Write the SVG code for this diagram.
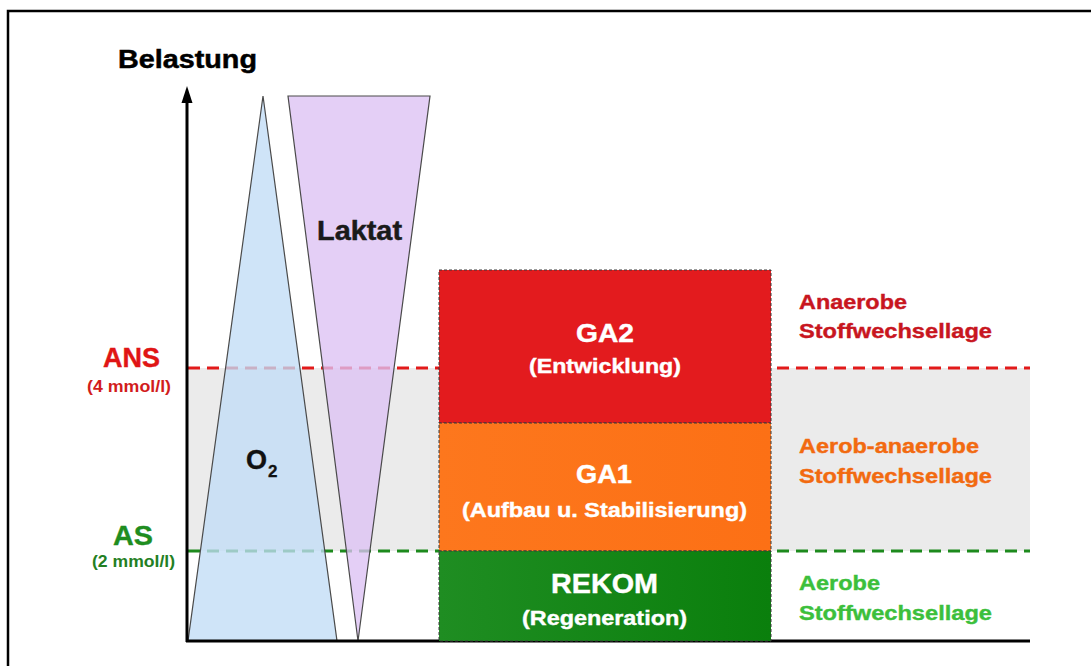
<svg xmlns="http://www.w3.org/2000/svg" width="1091" height="666" viewBox="0 0 1091 666">
  <defs>
    <style>
      text { font-family: "Liberation Sans", Arial, sans-serif; font-weight: bold; }
      .box { stroke: #3a3a3a; stroke-width: 1; stroke-dasharray: 3 2; }
      .boxt { fill: #ffffff; text-anchor: middle; stroke: #ffffff; stroke-width: 0.4; }
      .tri { stroke: #4a4a4a; stroke-width: 1.2; fill-opacity: 0.78; }
      .dash { stroke-width: 3; stroke-dasharray: 12 7; fill: none; }
      .lbl { font-size: 21px; stroke-width: 0.4; }
    </style>
    <linearGradient id="gGreen" x1="0" y1="0" x2="1" y2="0">
      <stop offset="0" stop-color="#1f8d22"/>
      <stop offset="1" stop-color="#0a7f0c"/>
    </linearGradient>
    <linearGradient id="gOrange" x1="0" y1="0" x2="1" y2="0">
      <stop offset="0" stop-color="#fd771d"/>
      <stop offset="1" stop-color="#fc7015"/>
    </linearGradient>
  </defs>

  <rect x="0" y="0" width="1091" height="666" fill="#ffffff"/>
  <!-- frame -->
  <path d="M8,666 V11 H1091" fill="none" stroke="#000" stroke-width="2.5"/>

  <!-- grey band -->
  <rect x="188" y="368" width="842" height="183" fill="#ebebeb"/>

  <!-- threshold lines -->
  <g id="connectors">
    <line class="dash" x1="188" y1="368" x2="1030" y2="368" stroke="#e21a1a"/>
    <line class="dash" x1="188" y1="551" x2="1030" y2="551" stroke="#1d8a1d"/>
  </g>

  <!-- triangles -->
  <g id="o2">
    <polygon class="tri" points="263,96 188,641 337,641" fill="#c2dcf6"/>
    <text x="246" y="469" font-size="27" fill="#111" stroke="#111" stroke-width="0.4">O</text>
    <text x="268" y="477" font-size="17" fill="#111" stroke="#111" stroke-width="0.3">2</text>
  </g>
  <g id="laktat">
    <polygon class="tri" points="288,96 430,96 358,641" fill="#dcc2f4"/>
    <text x="317" y="240" font-size="27" fill="#1a1a1a" stroke="#1a1a1a" stroke-width="0.5" textLength="85" lengthAdjust="spacingAndGlyphs">Laktat</text>
  </g>

  <!-- axes -->
  <g id="axes">
    <line x1="187" y1="642" x2="187" y2="100" stroke="#000" stroke-width="3"/>
    <polygon points="187,86 181.5,103 192.5,103" fill="#000"/>
    <line x1="186" y1="641" x2="1030" y2="641" stroke="#000" stroke-width="3"/>
    <text x="118" y="68" font-size="26" fill="#000" stroke="#000" stroke-width="0.5" textLength="139" lengthAdjust="spacingAndGlyphs">Belastung</text>
  </g>

  <!-- threshold labels -->
  <g id="ans">
    <text x="103" y="367" font-size="28" fill="#e01515" stroke="#e01515" stroke-width="0.4" textLength="57" lengthAdjust="spacingAndGlyphs">ANS</text>
    <text x="87" y="392" font-size="16" fill="#d21c1c" textLength="84" lengthAdjust="spacingAndGlyphs">(4 mmol/l)</text>
  </g>
  <g id="as">
    <text x="113" y="545" font-size="28" fill="#1f8d1f" stroke="#1f8d1f" stroke-width="0.4" textLength="40" lengthAdjust="spacingAndGlyphs">AS</text>
    <text x="92" y="567" font-size="16" fill="#237f23" textLength="83" lengthAdjust="spacingAndGlyphs">(2 mmol/l)</text>
  </g>

  <!-- zones -->
  <g id="ga2">
    <rect class="box" x="439" y="270" width="332" height="153" fill="#e31b1e"/>
    <text class="boxt" x="605" y="342" font-size="26" textLength="58" lengthAdjust="spacingAndGlyphs">GA2</text>
    <text class="boxt" x="605" y="373" font-size="20" textLength="152" lengthAdjust="spacingAndGlyphs">(Entwicklung)</text>
  </g>
  <g id="ga1">
    <rect class="box" x="439" y="423" width="332" height="128" fill="url(#gOrange)"/>
    <text class="boxt" x="604" y="483" font-size="26" textLength="56" lengthAdjust="spacingAndGlyphs">GA1</text>
    <text class="boxt" x="604.5" y="517" font-size="20" textLength="285" lengthAdjust="spacingAndGlyphs">(Aufbau u. Stabilisierung)</text>
  </g>
  <g id="rekom">
    <rect class="box" x="439" y="551" width="332" height="90" fill="url(#gGreen)"/>
    <text class="boxt" x="604.5" y="593" font-size="27" textLength="107" lengthAdjust="spacingAndGlyphs">REKOM</text>
    <text class="boxt" x="604.5" y="625" font-size="20" textLength="165" lengthAdjust="spacingAndGlyphs">(Regeneration)</text>
  </g>

  <!-- metabolic labels -->
  <g id="label-anaerob">
    <text class="lbl" x="799" y="309" fill="#c8161f" stroke="#c8161f" textLength="108" lengthAdjust="spacingAndGlyphs">Anaerobe</text>
    <text class="lbl" x="799" y="338" fill="#c8161f" stroke="#c8161f" textLength="193" lengthAdjust="spacingAndGlyphs">Stoffwechsellage</text>
  </g>
  <g id="label-aerob-anaerob">
    <text class="lbl" x="799" y="453" fill="#f26a10" stroke="#f26a10" textLength="180" lengthAdjust="spacingAndGlyphs">Aerob-anaerobe</text>
    <text class="lbl" x="799" y="483" fill="#f26a10" stroke="#f26a10" textLength="193" lengthAdjust="spacingAndGlyphs">Stoffwechsellage</text>
  </g>
  <g id="label-aerob">
    <text class="lbl" x="799" y="590" fill="#3cbf3c" stroke="#3cbf3c" textLength="81" lengthAdjust="spacingAndGlyphs">Aerobe</text>
    <text class="lbl" x="799" y="620" fill="#3cbf3c" stroke="#3cbf3c" textLength="193" lengthAdjust="spacingAndGlyphs">Stoffwechsellage</text>
  </g>
</svg>
